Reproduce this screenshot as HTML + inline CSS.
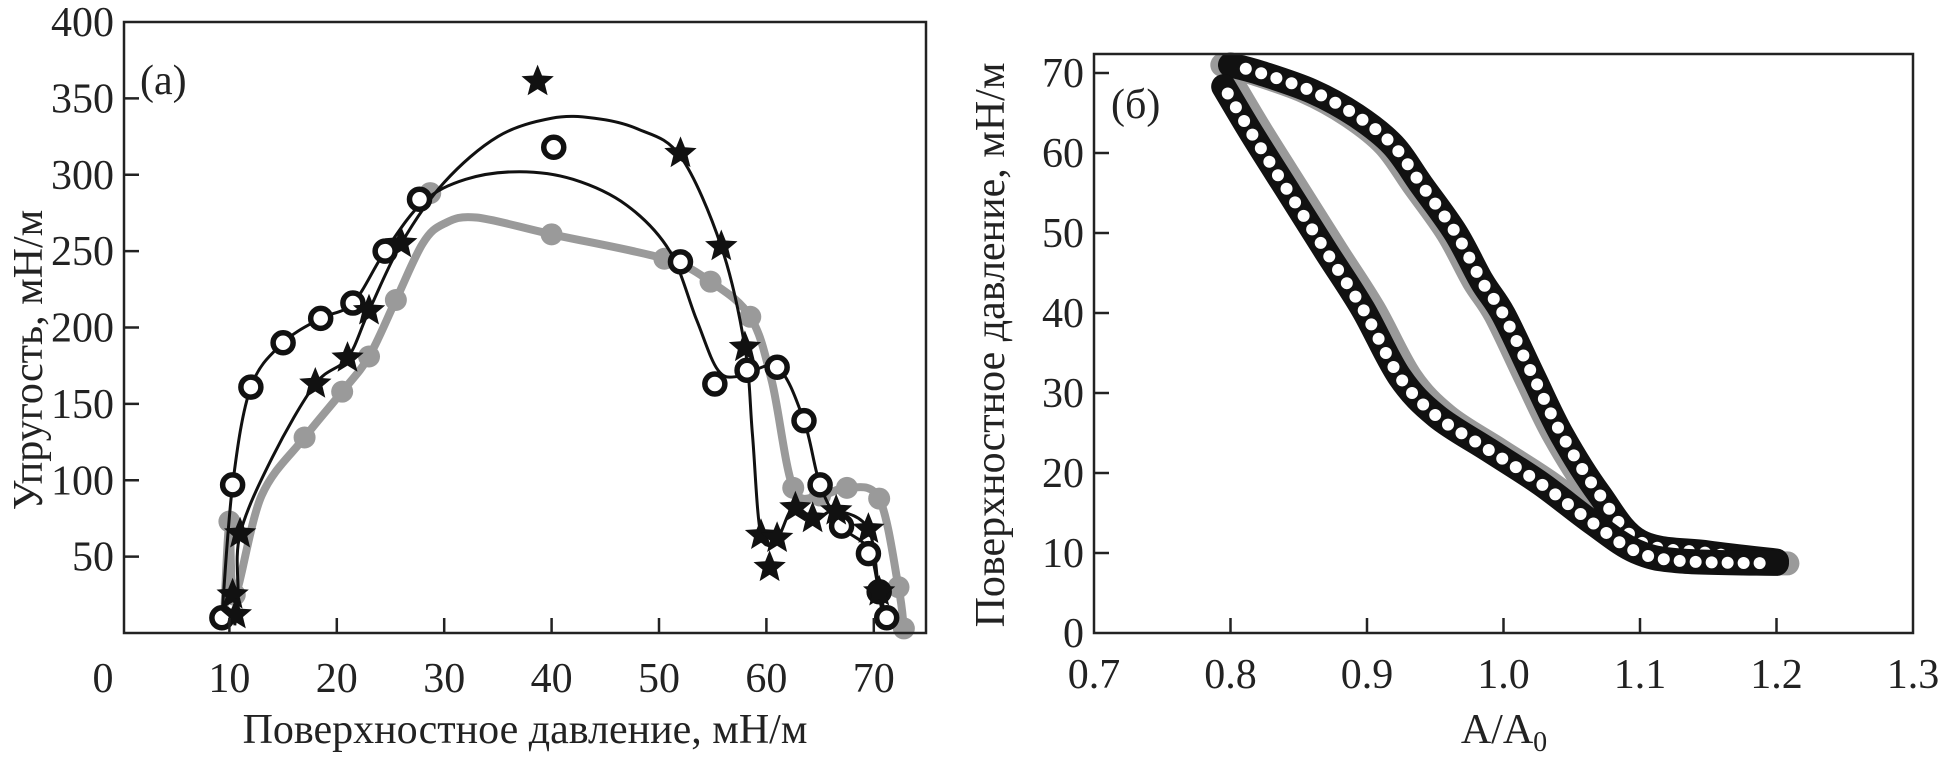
<!DOCTYPE html>
<html><head><meta charset="utf-8"><style>
html,body{margin:0;padding:0;background:#fff;}
svg{display:block;}
svg text{font-family:"Liberation Serif","DejaVu Serif",serif;}
</style></head><body>
<svg id="fig" width="1938" height="758" viewBox="0 0 1938 758" font-family="Liberation Serif, serif">
<g id="left"></g>
<g id="right"></g>
</svg>
<script>
// ---- Chart (a) data ----
const grayPts = [[9.5,10],[10,73],[10.5,25],[17,128],[20.5,158],[23,181],[25.5,218],[28.7,288],[40,261],[50.5,245],[54.8,230],[58.5,207],[62.5,95],[65,90],[67.5,95],[70.5,88],[72.3,30],[72.8,3]];
const grayLine = [[9.5,10],[10,73],[10.5,25],[13,90],[17,128],[20.5,158],[23,181],[25.5,218],[28,255],[30,268],[33,272],[40,261],[50.5,245],[54.8,230],[58.5,207],[60.5,165],[62.5,95],[65,90],[67.5,95],[70.5,88],[72.3,30],[72.8,3]];
const circPts = [[9.3,10],[10.3,97],[12,161],[15,190],[18.5,206],[21.5,216],[24.5,250],[27.7,284],[40.2,318],[52,243],[55.2,163],[58.2,172],[61,174],[63.5,139],[65,97],[67,70],[69.5,52],[70.5,27],[71.2,10]];
const circFit = [[9.3,10],[10.3,97],[12,161],[15,190],[18.5,206],[21.5,216],[24.5,250],[28,282],[32,297],[37,302],[42,297],[47,280],[51,250],[53.5,205],[55.5,172],[57.5,168],[61,174],[63.5,139],[65,97],[67,70],[69.5,55],[70.5,27],[71.2,10]];
const starPts = [[10.3,25],[10.6,12],[11,65],[18,163],[21,180],[23,211],[26,255],[38.7,361],[52,314],[55.8,253],[58,187],[59.5,64],[60.3,43],[61,62],[62.7,82],[64.3,75],[66.5,80],[69.5,68],[70.5,27]];
const starFit = [[10.5,5],[10.8,25],[11,65],[14,115],[18,163],[21,180],[23,211],[26,255],[30,295],[35,325],[40,337],[44,337],[48,330],[52,312],[55.8,253],[58,187],[58.7,130],[59.5,64],[61,62],[62.5,82],[64.5,75],[66.5,80],[69.5,68],[70.5,25],[71,5]];
const xTicksA = [10,20,30,40,50,60,70];
const xLabelsA = ["0","10","20","30","40","50","60","70"];
const yTicksA = [50,100,150,200,250,300,350,400];
// ---- Chart (b) data ----
const compA = [1.2,1.15,1.1,1.07,1.043,1.022,1.0,0.984,0.965,0.94,0.919,0.892,0.86,0.822,0.8];
const compP = [9,10,11.4,17.4,24.7,32,39.8,44,50,56,61,64.7,67.7,70,71];
const expA = [0.795,0.816,0.843,0.87,0.897,0.924,0.951,0.989,1.027,1.065,1.097,1.13,1.2];
const expP = [68.3,62.3,55,47.7,40.5,32,27.1,22.9,18.7,13.8,10.2,9,8.7];
const xTicksB = [0.7,0.8,0.9,1.0,1.1,1.2,1.3];
const xLabelsB = ["0.7","0.8","0.9","1.0","1.1","1.2","1.3"];
const yTicksB = [0,10,20,30,40,50,60,70];

const NS="http://www.w3.org/2000/svg";
const FONT="'Liberation Serif', 'DejaVu Serif', serif";
function mk(parent,tag,attrs){const e=document.createElementNS(NS,tag);for(const k in attrs)e.setAttribute(k,attrs[k]);if(tag==='text')e.setAttribute('font-family',FONT);parent.appendChild(e);return e;}
function smooth(pts){
  if(pts.length<2)return "";
  let d="M"+pts[0][0]+","+pts[0][1];
  for(let i=0;i<pts.length-1;i++){
    const p0=pts[i-1]||pts[i],p1=pts[i],p2=pts[i+1],p3=pts[i+2]||p2;
    const c1=[p1[0]+(p2[0]-p0[0])/6,p1[1]+(p2[1]-p0[1])/6];
    const c2=[p2[0]-(p3[0]-p1[0])/6,p2[1]-(p3[1]-p1[1])/6];
    d+=" C"+c1[0]+","+c1[1]+" "+c2[0]+","+c2[1]+" "+p2[0]+","+p2[1];
  }
  return d;
}
function starPath(cx,cy,R,r){let d="";for(let i=0;i<10;i++){const a=-Math.PI/2+i*Math.PI/5;const rr=i%2?r:R;d+=(i?"L":"M")+(cx+rr*Math.cos(a)).toFixed(1)+","+(cy+rr*Math.sin(a)).toFixed(1);}return d+"Z";}

// ===== Chart A =====
const L=document.getElementById('left');
const ax0=124,ax1=926,ay0=22,ay1=633;
const xA=v=>122+v*10.74;
const yA=v=>ay1-(v/400)*(ay1-ay0);
let g=mk(L,'path',{d:smooth(grayLine.map(p=>[xA(p[0]),yA(p[1])])),fill:'none',stroke:'#9a9a9a','stroke-width':8,'stroke-linejoin':'round'});


grayPts.forEach(p=>{const c=mk(L,'circle',{cx:xA(p[0]),cy:yA(p[1]),r:11,fill:'#9a9a9a'});

});
let f1=mk(L,'path',{d:smooth(circFit.map(p=>[xA(p[0]),yA(p[1])])),fill:'none',stroke:'#111','stroke-width':3});


let f2=mk(L,'path',{d:smooth(starFit.map(p=>[xA(p[0]),yA(p[1])])),fill:'none',stroke:'#111','stroke-width':3});


circPts.forEach(p=>{const c=mk(L,'circle',{cx:xA(p[0]),cy:yA(p[1]),r:10,fill:'#fff',stroke:'#111','stroke-width':5.5});

});
starPts.forEach(p=>{const s=mk(L,'path',{d:starPath(xA(p[0]),yA(p[1]),17,7.5),fill:'#111'});

});
let bx=mk(L,'rect',{x:ax0,y:ay0,width:ax1-ax0,height:ay1-ay0,fill:'none',stroke:'#222','stroke-width':2.5});


xTicksA.forEach(v=>{const t=mk(L,'line',{x1:xA(v),x2:xA(v),y1:ay1,y2:ay1-15,stroke:'#222','stroke-width':2.5});

});
xLabelsA.forEach((s,i)=>{const x=i===0?103:xA(xTicksA[i-1]);const t=mk(L,'text',{x:x,y:692,'font-size':42,'text-anchor':'middle',fill:'#222'});t.textContent=s;

});
yTicksA.forEach(v=>{if(v<400){const t=mk(L,'line',{x1:ax0,x2:ax0+15,y1:yA(v),y2:yA(v),stroke:'#222','stroke-width':2.5});

}
const l=mk(L,'text',{x:114,y:yA(v)+14,'font-size':42,'text-anchor':'end',fill:'#222'});l.textContent=String(v);

});
let tA=mk(L,'text',{x:525,y:743,'font-size':42,'text-anchor':'middle',fill:'#222'});tA.textContent='Поверхностное давление, мН/м';


let yTA=mk(L,'text',{x:0,y:0,'font-size':42,'text-anchor':'middle',fill:'#222',transform:'translate(42,360) rotate(-90)'});yTA.textContent='Упругость, мН/м';


let pa=mk(L,'text',{x:140,y:94,'font-size':42,fill:'#222'});pa.textContent='(a)';



// ===== Chart B =====
const R=document.getElementById('right');
const bx0=1094,bx1=1913,by0=54,by1=633;
const xB=v=>bx0+(v-0.7)/0.6*(bx1-bx0);
const yB=v=>by1-v*8.0;
function branch(A,P,dx){return A.map((a,i)=>[xB(a+dx),yB(P[i])]);}
const compPx=branch(compA,compP,0), expPx=branch(expA,expP,0);
const compGray=branch(compA,compP,-0.006), expGray=branch(expA,expP,0.008);
[compGray,expGray].forEach(b=>{const p=mk(R,'path',{d:smooth(b),fill:'none',stroke:'#9a9a9a','stroke-width':24,'stroke-linecap':'round'});

});
[compPx,expPx].forEach(b=>{const p=mk(R,'path',{d:smooth(b),fill:'none',stroke:'#111','stroke-width':25,'stroke-linecap':'round'});


const len=p.getTotalLength();
for(let s=8;s<len-4;s+=16){const q=p.getPointAtLength(s);const c=mk(R,'circle',{cx:q.x,cy:q.y,r:6,fill:'#fff'});

}
});
let bxB=mk(R,'rect',{x:bx0,y:by0,width:bx1-bx0,height:by1-by0,fill:'none',stroke:'#222','stroke-width':2.5});


xTicksB.forEach((v,i)=>{if(i>0&&i<xTicksB.length-1){const t=mk(R,'line',{x1:xB(v),x2:xB(v),y1:by1,y2:by1-15,stroke:'#222','stroke-width':2.5});

}
const l=mk(R,'text',{x:xB(v),y:688,'font-size':42,'text-anchor':'middle',fill:'#222'});l.textContent=xLabelsB[i];

});
yTicksB.forEach(v=>{if(v>0){const t=mk(R,'line',{x1:bx0,x2:bx0+15,y1:yB(v),y2:yB(v),stroke:'#222','stroke-width':2.5});

}
const l=mk(R,'text',{x:1084,y:yB(v)+14,'font-size':42,'text-anchor':'end',fill:'#222'});l.textContent=String(v);

});
let tB=mk(R,'text',{x:1504,y:743,'font-size':42,'text-anchor':'middle',fill:'#222'});tB.innerHTML='A/A<tspan font-size="28" dy="8">0</tspan>';


let yTB=mk(R,'text',{x:0,y:0,'font-size':42,'text-anchor':'middle',fill:'#222',transform:'translate(1004,345) rotate(-90)'});yTB.textContent='Поверхностное давление, мН/м';


let pb=mk(R,'text',{x:1111,y:118,'font-size':42,fill:'#222'});pb.textContent='(б)';


</script>
</body></html>
